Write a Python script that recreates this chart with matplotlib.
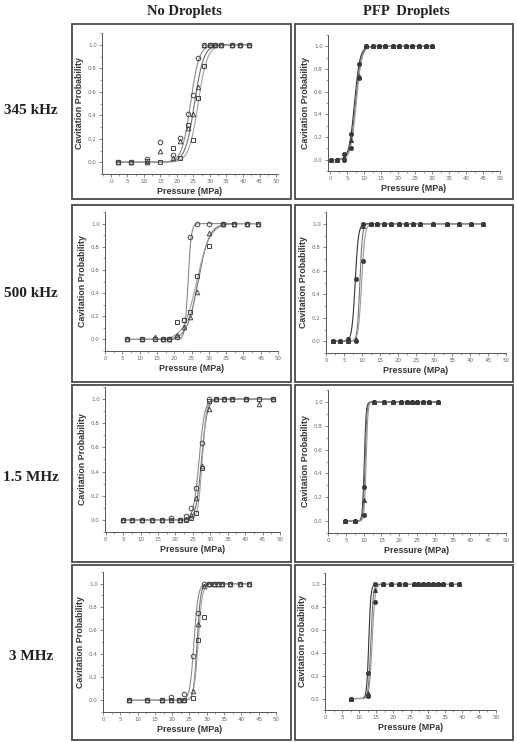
import numpy as np
import matplotlib
matplotlib.use('Agg')
import matplotlib.pyplot as plt
from matplotlib.patches import Rectangle
from matplotlib.ticker import MultipleLocator

W, H = 517, 742

# ---- data: x = pressure (MPa), y = cavitation probability ----
x_345_no = [2.2, 6.0, 11.0, 14.8, 18.8, 20.9, 23.2, 24.9, 26.4, 28.1, 29.9, 31.6, 33.2, 36.7, 39.1, 41.8]
y_345_no_a = [0, 0, 0.03, 0.17, 0.06, 0.21, 0.41, 0.57, 0.89, 1, 1, 1, 1, 1, 1, 1]
y_345_no_b = [0, 0, 0, 0.10, 0.04, 0.18, 0.29, 0.41, 0.64, 1, 1, 1, 1, 1, 1, 1]
y_345_no_c = [0, 0, 0.01, 0, 0.12, 0.04, 0.32, 0.19, 0.55, 0.82, 1, 1, 1, 1, 1, 1]
fit_345_no_x0 = [24.1, 25.3, 26.4]
fit_345_no_dx = [1.3, 1.4, 1.4]

x_345_pfp = [0.2, 2.0, 4.1, 6.2, 8.5, 10.6, 12.5, 14.5, 16.3, 18.4, 20.3, 22.3, 24.2, 26.2, 28.2, 30.1]
y_345_pfp_a = [0, 0, 0.05, 0.23, 0.84, 1, 1, 1, 1, 1, 1, 1, 1, 1, 1, 1]
y_345_pfp_b = [0, 0, 0.02, 0.17, 0.74, 1, 1, 1, 1, 1, 1, 1, 1, 1, 1, 1]
y_345_pfp_c = [0, 0, 0, 0.10, 0.72, 1, 1, 1, 1, 1, 1, 1, 1, 1, 1, 1]
fit_345_pfp_x0 = [7.2, 7.5, 7.7]
fit_345_pfp_dx = [0.8, 0.8, 0.8]

x_500_no = [6.3, 10.6, 14.5, 16.7, 18.5, 20.7, 22.7, 24.6, 26.5, 30.2, 34.0, 37.4, 41.0, 44.3]
y_500_no_a = [0, 0, 0, 0, 0, 0.02, 0.17, 0.88, 1, 1, 1, 1, 1, 1]
y_500_no_b = [0, 0, 0.02, 0, 0, 0.04, 0.11, 0.19, 0.41, 0.92, 1, 1, 1, 1]
y_500_no_c = [0, 0, 0, 0, 0, 0.15, 0.17, 0.24, 0.55, 0.81, 1, 1, 1, 1]
fit_500_no_x0 = [24.0, 26.9, 26.5]
fit_500_no_dx = [0.45, 1.6, 1.9]

x_500_pfp = [2.0, 3.9, 6.0, 8.2, 10.3, 12.4, 14.3, 16.2, 18.1, 20.2, 22.2, 24.2, 26.2, 29.8, 33.5, 37.0, 40.3, 43.6]
y_500_pfp_a = [0, 0, 0.02, 0.53, 1, 1, 1, 1, 1, 1, 1, 1, 1, 1, 1, 1, 1, 1]
y_500_pfp_b = [0, 0, 0, 0.02, 0.98, 1, 1, 1, 1, 1, 1, 1, 1, 1, 1, 1, 1, 1]
y_500_pfp_c = [0, 0, 0, 0, 0.68, 1, 1, 1, 1, 1, 1, 1, 1, 1, 1, 1, 1, 1]
fit_500_pfp_x0 = [8.1, 9.4, 9.9]
fit_500_pfp_dx = [0.45, 0.35, 0.45]

x_15_no = [4.9, 7.6, 10.3, 13.2, 16.1, 18.8, 21.3, 23.1, 24.5, 25.9, 27.6, 29.7, 31.7, 34.0, 36.3, 40.3, 44.0, 48.1]
y_15_no_a = [0, 0, 0, 0, 0, 0.02, 0, 0.03, 0.10, 0.26, 0.64, 1, 1, 1, 1, 1, 1, 1]
y_15_no_b = [0, 0, 0, 0, 0, 0, 0, 0.01, 0.04, 0.18, 0.45, 0.92, 1, 1, 1, 1, 0.96, 1]
y_15_no_c = [0, 0, 0, 0, 0, 0, 0, 0, 0.02, 0.06, 0.43, 0.98, 1, 1, 1, 1, 1, 1]
fit_15_no_x0 = [26.8, 27.5, 27.7]
fit_15_no_dx = [0.8, 0.8, 0.6]

x_15_pfp = [4.9, 7.5, 10.0, 12.8, 15.7, 18.2, 20.6, 22.3, 23.7, 25.1, 26.7, 28.4, 30.9]
y_15_pfp_a = [0, 0, 0.29, 1, 1, 1, 1, 1, 1, 1, 1, 1, 1]
y_15_pfp_b = [0, 0, 0.18, 1, 1, 1, 1, 1, 1, 1, 1, 1, 1]
y_15_pfp_c = [0, 0, 0.05, 1, 1, 1, 1, 1, 1, 1, 1, 1, 1]
fit_15_pfp_x0 = [10.2, 10.4, 10.7]
fit_15_pfp_dx = [0.25, 0.25, 0.25]

x_3_no = [7.5, 12.7, 17.0, 19.6, 22.0, 23.3, 26.0, 27.6, 29.1, 30.7, 32.0, 33.3, 34.5, 36.8, 39.5, 42.2]
y_3_no_a = [0, 0, 0, 0.03, 0, 0.05, 0.38, 0.75, 1, 1, 1, 1, 1, 1, 1, 1]
y_3_no_b = [0, 0, 0, 0, 0, 0, 0.08, 0.65, 0.98, 1, 1, 1, 1, 1, 1, 1]
y_3_no_c = [0, 0, 0, 0, 0, 0, 0.02, 0.52, 0.71, 1, 1, 1, 1, 1, 1, 1]
fit_3_no_x0 = [26.3, 27.2, 27.5]
fit_3_no_dx = [0.6, 0.5, 0.6]

x_3_pfp = [7.6, 12.5, 14.6, 16.9, 19.3, 21.5, 23.4, 25.9, 27.3, 28.8, 30.2, 31.7, 33.0, 34.4, 36.9, 39.3]
y_3_pfp_a = [0, 0.22, 1, 1, 1, 1, 1, 1, 1, 1, 1, 1, 1, 1, 1, 1]
y_3_pfp_b = [0, 0.05, 0.95, 1, 1, 1, 1, 1, 1, 1, 1, 1, 1, 1, 1, 1]
y_3_pfp_c = [0, 0.02, 0.85, 1, 1, 1, 1, 1, 1, 1, 1, 1, 1, 1, 1, 1]
fit_3_pfp_x0 = [12.8, 13.4, 13.8]
fit_3_pfp_dx = [0.3, 0.35, 0.4]

row_labels = ['345 kHz', '500 kHz', '1.5 MHz', '3 MHz']
col_labels = ['No Droplets', 'PFP  Droplets']


def px_rect(l, t, r, b):
    return [l / W, 1 - b / H, (r - l) / W, (b - t) / H]


fig = plt.figure(figsize=(W / 100, H / 100), dpi=100)
fig.patch.set_facecolor('white')

# panel frames (pixel boxes)
col_x = [(72, 291), (295, 513)]
row_y = [(24, 199), (205, 382), (385, 562), (565, 740)]
for (y0, y1) in row_y:
    for (x0, x1) in col_x:
        fig.patches.append(Rectangle((x0 / W, 1 - y1 / H), (x1 - x0) / W, (y1 - y0) / H,
                                     transform=fig.transFigure, fill=False,
                                     edgecolor='#4a4a4a', linewidth=1.3))

# axes boxes: (left, top, right, bottom) px and x-limits
panels = [
    ((102, 33, 278, 174), (-2.7, 50.6), x_345_no, [y_345_no_a, y_345_no_b, y_345_no_c], fit_345_no_x0, fit_345_no_dx, False),
    ((328, 35, 500, 171), (-0.6, 50), x_345_pfp, [y_345_pfp_a, y_345_pfp_b, y_345_pfp_c], fit_345_pfp_x0, fit_345_pfp_dx, True),
    ((105, 212, 278, 351), (0, 50), x_500_no, [y_500_no_a, y_500_no_b, y_500_no_c], fit_500_no_x0, fit_500_no_dx, False),
    ((326, 212, 506, 353), (0, 50), x_500_pfp, [y_500_pfp_a, y_500_pfp_b, y_500_pfp_c], fit_500_pfp_x0, fit_500_pfp_dx, True),
    ((105, 387, 280, 532), (-0.2, 50), x_15_no, [y_15_no_a, y_15_no_b, y_15_no_c], fit_15_no_x0, fit_15_no_dx, False),
    ((328, 390, 506, 533), (0, 50), x_15_pfp, [y_15_pfp_a, y_15_pfp_b, y_15_pfp_c], fit_15_pfp_x0, fit_15_pfp_dx, True),
    ((103, 572, 276, 712), (0, 50), x_3_no, [y_3_no_a, y_3_no_b, y_3_no_c], fit_3_no_x0, fit_3_no_dx, False),
    ((325, 573, 496, 710), (0, 50), x_3_pfp, [y_3_pfp_a, y_3_pfp_b, y_3_pfp_c], fit_3_pfp_x0, fit_3_pfp_dx, True),
]

markers = ['o', '^', 's']
line_cols = ['#8a8a8a', '#6f6f6f', '#a0a0a0']
pfp_cols = ['#333333', '#777777', '#999999']

for rect, xlim, xs, ys, x0s, dxs, filled in panels:
    ax = fig.add_axes(px_rect(*rect))
    xs = np.array(xs)
    xx = np.linspace(xs.min(), xs.max(), 400)
    for k in range(3):
        # Boltzmann fit curve
        yy = 1.0 / (1.0 + np.exp((x0s[k] - xx) / dxs[k]))
        ax.plot(xx, yy, color=pfp_cols[k] if filled else line_cols[k], lw=0.8, zorder=2)
    for k in range(3):
        if filled:
            ax.plot(xs, ys[k], ls='none', marker=['o', '^', 'o'][k], ms=3.1,
                    mfc='#3a3a3a', mec='#3a3a3a', mew=0.5, zorder=3)
        else:
            ax.plot(xs, ys[k], ls='none', marker=markers[k], ms=3.3,
                    mfc='none', mec='#444444', mew=0.7, zorder=3)
    ax.set_xlim(*xlim)
    ax.set_ylim(-0.1, 1.1)
    ax.xaxis.set_major_locator(MultipleLocator(5))
    ax.xaxis.set_minor_locator(MultipleLocator(2.5))
    ax.yaxis.set_minor_locator(MultipleLocator(0.1))
    ax.set_yticks([0, 0.2, 0.4, 0.6, 0.8, 1.0])
    ax.set_yticklabels(['0.0', '0.2', '0.4', '0.6', '0.8', '1.0'])
    for s in ['top', 'right']:
        ax.spines[s].set_visible(False)
    for s in ['left', 'bottom']:
        ax.spines[s].set_color('#555555')
        ax.spines[s].set_linewidth(0.7)
    ax.tick_params(which='major', direction='out', length=2.2, width=0.5, pad=1.5,
                   labelsize=4.0, colors='#555555', labelcolor='#666666')
    ax.tick_params(which='minor', direction='out', length=1.2, width=0.4, colors='#555555')
    ax.set_xlabel('Pressure (MPa)', fontsize=6.4, fontweight='bold',
                  family='Liberation Sans', color='#333333', labelpad=2)
    ax.set_ylabel('Cavitation Probability', fontsize=6.4, fontweight='bold',
                  family='Liberation Sans', color='#333333', labelpad=3)
    ax.set_facecolor('white')

# row and column titles
row_cy = [110, 293, 477, 657]
for lab, cy in zip(row_labels, row_cy):
    fig.text(31 / W, 1 - cy / H, lab, ha='center', va='center', fontsize=11,
             fontweight='bold', family='Liberation Serif', color='#222222')
col_cx = [184, 406]
for lab, cx in zip(col_labels, col_cx):
    fig.text(cx / W, 1 - 11 / H, lab, ha='center', va='center', fontsize=10.5,
             fontweight='bold', family='Liberation Serif', color='#222222')

fig.savefig('out.png', dpi=100)
